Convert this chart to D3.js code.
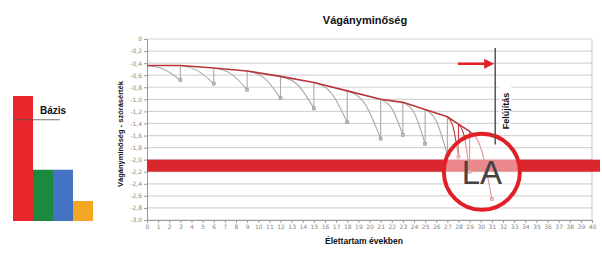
<!DOCTYPE html>
<meta charset="utf-8">
<script src="https://cdn.jsdelivr.net/npm/d3@7/dist/d3.min.js"></script>
<style>
body { margin: 0; background: #fff; }
text { font-family: "Liberation Sans", Arial, sans-serif; }
.tick text { font-family: "DejaVu Sans", sans-serif; font-size: 6px; fill: #888; }
.tick line { stroke: #999; }
.domain { stroke: #999; }
</style>
<body>
<script>

// left bar chart
var barNames = ["piros", "zold", "kek", "narancs"];
var barValues = [100, 41, 41, 16];
var barColors = ["#e8262b", "#1b8a3f", "#4472c4", "#f5a623"];
var bazisValue = 81;

// renewal (envelope) points
var renewYears = [0, 3, 6, 9, 12, 15, 18, 21, 23, 25, 27, 28, 29];
var renewValues = [-0.44, -0.44, -0.48, -0.53, -0.62, -0.72, -0.86, -1.0, -1.05, -1.17, -1.29, -1.41, -1.53];

// decay curves start at renewal i and end at decayYears[i]
var decayYears = [3, 6, 9, 12, 15, 18, 21, 23, 25, 27, 28, 29, 31];
var decayMid = [-0.50, -0.52, -0.57, -0.64, -0.75, -0.88, -1.05, -1.15, -1.22, -1.36, -1.45, -1.60, -1.80];
var decayEnd = [-0.68, -0.74, -0.84, -0.98, -1.15, -1.38, -1.65, -1.59, -1.74, -1.92, -1.95, -2.20, -2.65];

var yTicks = d3.range(0, 16).map(function(i) { return -i * 0.2; });
var xTicks = d3.range(0, 41);

var limitBand = [-2.0, -2.2];
var renewalYear = 31.3;
var circleAt = [30.1, -2.2];

var width = 602, height = 257;

var svg = d3.select("body").append("svg")
    .attr("width", width)
    .attr("height", height);

// ---- bars
var bx = d3.scaleBand().domain(barNames).range([13, 93]).padding(0);
var by = d3.scaleLinear().domain([0, 100]).range([221, 96]);

svg.append("g").selectAll("rect")
    .data(barNames)
    .enter().append("rect")
    .attr("x", function(d) { return bx(d); })
    .attr("width", bx.bandwidth())
    .attr("y", function(d, i) { return by(barValues[i]); })
    .attr("height", function(d, i) { return by(0) - by(barValues[i]); })
    .attr("fill", function(d, i) { return barColors[i]; });

svg.append("line")
    .attr("x1", 13).attr("x2", 60)
    .attr("y1", by(bazisValue)).attr("y2", by(bazisValue))
    .attr("stroke", "#555").attr("stroke-opacity", 0.8).attr("stroke-width", 1.2);

svg.append("text")
    .attr("x", 40).attr("y", by(bazisValue) - 6)
    .attr("font-size", 10).attr("font-weight", "bold")
    .attr("fill", "#111")
    .text("Bázis");

// ---- main chart
var x = d3.scaleLinear().domain([0, 40]).range([147, 592]);
var y = d3.scaleLinear().domain([-3, 0]).range([220, 39]);

function fmt(v) {
  if (Math.abs(v) < 1e-9) return "0";
  return d3.format(".1f")(v).replace(".", ",").replace("−", "-");
}

// grid
svg.append("g").selectAll("line")
    .data(yTicks)
    .enter().append("line")
    .attr("x1", x(0)).attr("x2", x(40))
    .attr("y1", function(d) { return y(d); })
    .attr("y2", function(d) { return y(d); })
    .attr("stroke", "#d4d4d4").attr("stroke-width", 1.2);

svg.append("line")
    .attr("x1", x(40)).attr("x2", x(40))
    .attr("y1", y(0)).attr("y2", y(-3))
    .attr("stroke", "#c8c8c8");

// axes
svg.append("g")
    .attr("transform", "translate(" + x(0) + ",0)")
    .call(d3.axisLeft(y).tickValues(yTicks).tickFormat(fmt).tickSize(3).tickPadding(2));

svg.append("g")
    .attr("transform", "translate(0," + y(-3) + ")")
    .call(d3.axisBottom(x).tickValues(xTicks).tickFormat(d3.format("d")).tickSize(3).tickPadding(2));

// limit band
svg.append("rect")
    .attr("x", x(0)).attr("width", 600 - x(0))
    .attr("y", y(limitBand[0]))
    .attr("height", y(limitBand[1]) - y(limitBand[0]))
    .attr("fill", "#d9272d");

// decay curves
var curve = d3.line()
    .x(function(d) { return x(d[0]); })
    .y(function(d) { return y(d[1]); })
    .curve(d3.curveMonotoneX);

var segs = renewYears.map(function(t, i) {
  return {
    late: t >= 27,
    pts: [[t, renewValues[i]], [(t + decayYears[i]) / 2, decayMid[i]], [decayYears[i], decayEnd[i]]]
  };
});

svg.append("g").selectAll("path")
    .data(segs)
    .enter().append("path")
    .attr("d", function(d) { return curve(d.pts); })
    .attr("fill", "none")
    .attr("stroke", function(d) { return d.late ? "#c23a3f" : "#aaa"; })
    .attr("stroke-width", 1.1);

// vertical restore lines
svg.append("g").selectAll("line")
    .data(renewYears.slice(1))
    .enter().append("line")
    .attr("x1", function(d) { return x(d); })
    .attr("x2", function(d) { return x(d); })
    .attr("y1", function(d, i) { return y(decayEnd[i]); })
    .attr("y2", function(d, i) { return y(renewValues[i + 1]); })
    .attr("stroke", function(d) { return d >= 28 ? "#c23a3f" : "#aaa"; })
    .attr("stroke-width", 1.1);

// markers
svg.append("g").selectAll("rect")
    .data(decayYears)
    .enter().append("rect")
    .attr("x", function(d) { return x(d) - 1.5; })
    .attr("y", function(d, i) { return y(decayEnd[i]) - 1.5; })
    .attr("width", 3).attr("height", 3)
    .attr("fill", function(d) { return d >= 28 ? "#d98a8a" : "#bbb"; })
    .attr("stroke", function(d) { return d >= 28 ? "#c23a3f" : "#999"; })
    .attr("stroke-width", 0.6);

// envelope
svg.append("path")
    .datum(renewYears.map(function(t, i) { return [t, renewValues[i]]; }))
    .attr("d", d3.line().x(function(d) { return x(d[0]); }).y(function(d) { return y(d[1]); }))
    .attr("fill", "none")
    .attr("stroke", "#b8353b")
    .attr("stroke-width", 1.6);

// LA circle
var cx = x(circleAt[0]), cy = y(circleAt[1]);
svg.append("circle")
    .attr("cx", cx).attr("cy", cy).attr("r", 38)
    .attr("fill", "#fff").attr("fill-opacity", 0.45)
    .attr("stroke", "#e21f26").attr("stroke-width", 4);

svg.append("text")
    .attr("x", cx).attr("y", cy + 12)
    .attr("text-anchor", "middle")
    .attr("font-size", 33)
    .attr("fill", "#444")
    .text("LA");

// renewal line + label
svg.append("line")
    .attr("x1", x(renewalYear)).attr("x2", x(renewalYear))
    .attr("y1", y(-0.15)).attr("y2", y(-1.75))
    .attr("stroke", "#555").attr("stroke-width", 1.5);

svg.append("rect")
    .attr("x", x(renewalYear) + 4).attr("y", 84)
    .attr("width", 12).attr("height", 50)
    .attr("fill", "#fff");

svg.append("text")
    .attr("transform", "translate(" + (x(renewalYear) + 14) + ",111) rotate(-90)")
    .attr("text-anchor", "middle")
    .attr("font-size", 9).attr("font-weight", "bold")
    .attr("fill", "#111")
    .text("Felújítás");

// arrow
var ay = y(-0.41);
svg.append("line")
    .attr("x1", x(27.95)).attr("x2", x(renewalYear) - 6)
    .attr("y1", ay).attr("y2", ay)
    .attr("stroke", "#e21f26").attr("stroke-width", 2.5);
svg.append("path")
    .attr("d", "M" + (x(renewalYear) - 1) + "," + ay + "L" + (x(renewalYear) - 11) + "," + (ay - 5) +
              "L" + (x(renewalYear) - 11) + "," + (ay + 5) + "Z")
    .attr("fill", "#e21f26");

// titles
svg.append("text")
    .attr("x", 365).attr("y", 24)
    .attr("text-anchor", "middle")
    .attr("font-size", 11).attr("font-weight", "bold")
    .attr("fill", "#111")
    .text("Vágányminőség");

svg.append("text")
    .attr("transform", "translate(123,134) rotate(-90)")
    .attr("text-anchor", "middle")
    .attr("font-size", 7.5).attr("font-weight", "bold")
    .attr("fill", "#111")
    .text("Vágányminőség - szórásérték");

svg.append("text")
    .attr("x", 364).attr("y", 244)
    .attr("text-anchor", "middle")
    .attr("font-size", 8.5).attr("font-weight", "bold")
    .attr("fill", "#111")
    .text("Élettartam években");

</script>
</body>
